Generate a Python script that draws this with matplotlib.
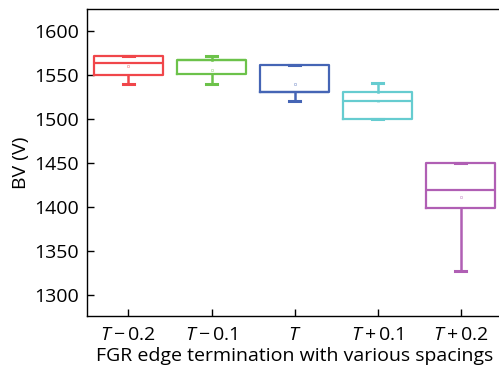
import matplotlib
matplotlib.use("Agg")
import matplotlib.pyplot as plt

plt.rcParams['font.family'] = ['Open Sans', 'DejaVu Sans']
plt.rcParams['mathtext.fontset'] = 'custom'
plt.rcParams['mathtext.rm'] = 'Open Sans'
plt.rcParams['mathtext.it'] = 'Open Sans:italic'

# breakdown voltage statistics per spacing variant (V)
spacings = [r'$T-0.2$', r'$T-0.1$', r'$T$', r'$T+0.1$', r'$T+0.2$']
q1 = [1550, 1551, 1531, 1500, 1399]
median = [1564, 1567, 1531, 1520, 1419]
q3 = [1571, 1567, 1561, 1531, 1450]
whislo = [1540, 1540, 1520, 1500, 1327]
whishi = [1571, 1571, 1561, 1541, 1450]
mean = [1560, 1556, 1540, 1520, 1411]
colors = ['#f0464a', '#6cc24a', '#4565b5', '#66ccd0', '#b05fb4']

stats = []
for i in range(len(spacings)):
    stats.append(dict(med=median[i], q1=q1[i], q3=q3[i], whislo=whislo[i],
                      whishi=whishi[i], mean=mean[i], fliers=[]))

fig = plt.figure(figsize=(4.99, 3.70), dpi=100)
ax = fig.add_axes([0.1743, 0.146, 0.832, 0.8297])

positions = list(range(1, len(spacings) + 1))
for i, s in enumerate(stats):
    c = colors[i]
    ax.bxp([s], positions=[positions[i]], widths=0.83, capwidths=0.13,
           showmeans=True, showfliers=False,
           boxprops=dict(color=c, linewidth=1.6),
           medianprops=dict(color=c, linewidth=1.6),
           whiskerprops=dict(color=c, linewidth=1.8),
           capprops=dict(color=c, linewidth=2.2),
           meanprops=dict(marker='s', markersize=2, markerfacecolor='none',
                          markeredgecolor=c, markeredgewidth=0.5, alpha=0.5))

ax.set_xlim(0.5, 5.5)
ax.set_ylim(1276, 1625)
ax.set_yticks([1300, 1350, 1400, 1450, 1500, 1550, 1600])
ax.set_xticks(positions)
ax.set_xticklabels(spacings)
ax.tick_params(direction='in', length=5, width=1, labelsize=14, pad=6)
ax.tick_params(axis='x', pad=7.5)
for sp in ax.spines.values():
    sp.set_linewidth(1)
ax.set_ylabel('BV (V)', fontsize=14, labelpad=3)
ax.set_xlabel('FGR edge termination with various spacings', fontsize=14, labelpad=2)

fig.savefig('out.png', dpi=100)
